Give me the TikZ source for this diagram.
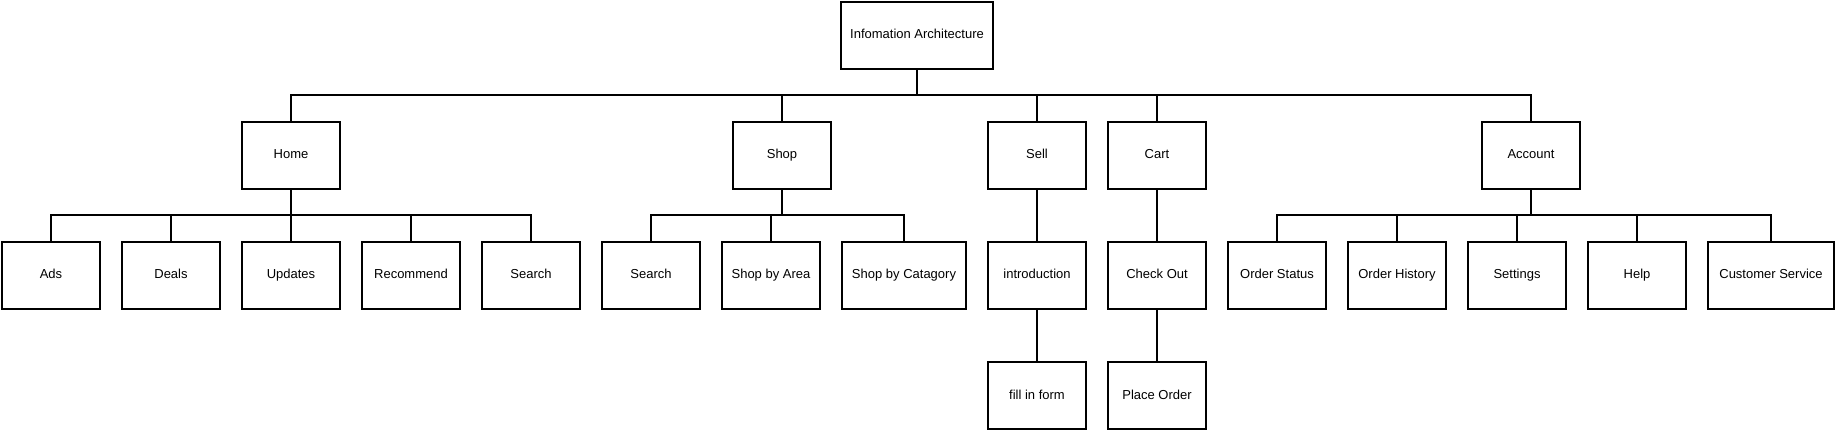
\documentclass[tikz,border=0pt]{standalone}
\usepackage{fontspec}
\setmainfont{Liberation Sans}
\usetikzlibrary{positioning}

\begin{document}
\begin{tikzpicture}[x=1pt, y=1pt, node distance=22pt,
    box/.style={draw, line width=1.8pt, minimum width=98pt, minimum height=67pt, inner sep=0pt, outer sep=0pt,
                text height=9.5pt, text depth=2.5pt, font=\fontsize{13}{15}\selectfont},
    link/.style={line width=1.5pt}]
    \useasboundingbox (0,0) rectangle (1836,-430);

    \node[box, minimum width=152pt]                     (root)         at (917,-35.5) {Infomation Architecture};

    \node[box]                                          (ads)          at (51,-275.5) {Ads};
    \node[box, right=of ads]                            (deals)        {Deals};
    \node[box, right=of deals]                          (updates)      {Updates};
    \node[box, right=of updates]                        (recommend)    {Recommend};
    \node[box, right=of recommend]                      (home search)  {Search};
    \node[box, right=of home search]                    (shop search)  {Search};
    \node[box, right=of shop search]                    (by area)      {Shop by Area};
    \node[box, minimum width=124pt, right=of by area]   (by catagory)  {Shop by Catagory};
    \node[box, right=of by catagory]                    (intro)        {introduction};
    \node[box, right=of intro]                          (check out)    {Check Out};
    \node[box, right=of check out]                      (status)       {Order Status};
    \node[box, right=of status]                         (history)      {Order History};
    \node[box, right=of history]                        (settings)     {Settings};
    \node[box, right=of settings]                       (help)         {Help};
    \node[box, minimum width=126pt, right=of help]      (service)      {Customer Service};

    \node[box, above=53pt of updates]                   (home)         {Home};
    \node[box, above=53pt of by area, xshift=11pt]      (shop)         {Shop};
    \node[box, above=53pt of intro]                     (sell)         {Sell};
    \node[box, above=53pt of check out]                 (cart)         {Cart};
    \node[box, above=53pt of settings, xshift=14pt]     (account)      {Account};

    \node[box, below=53pt of intro]                     (form)         {fill in form};
    \node[box, below=53pt of check out]                 (place order)  {Place Order};

    \coordinate[below=26pt of root.south]    (root bus);
    \coordinate[below=26pt of home.south]    (home bus);
    \coordinate[below=26pt of shop.south]    (shop bus);
    \coordinate[below=26pt of account.south] (account bus);

    % top level
    \draw[link] (root.south) -- (root bus);
    \draw[link] (home.north) |- (root bus);
    \draw[link] (shop.north) |- (root bus);
    \draw[link] (sell.north) |- (root bus);
    \draw[link] (cart.north) |- (root bus);
    \draw[link] (account.north) |- (root bus);

    % home
    \draw[link] (home.south) -- (home bus);
    \draw[link] (ads.north) |- (home bus);
    \draw[link] (deals.north) |- (home bus);
    \draw[link] (updates.north) |- (home bus);
    \draw[link] (recommend.north) |- (home bus);
    \draw[link] (home search.north) |- (home bus);

    % shop
    \draw[link] (shop.south) -- (shop bus);
    \draw[link] (shop search.north) |- (shop bus);
    \draw[link] (by area.north) |- (shop bus);
    \draw[link] (by catagory.north) |- (shop bus);

    % sell, cart
    \draw[link] (sell) -- (intro);
    \draw[link] (intro) -- (form);
    \draw[link] (cart) -- (check out);
    \draw[link] (check out) -- (place order);

    % account
    \draw[link] (account.south) -- (account bus);
    \draw[link] (status.north) |- (account bus);
    \draw[link] (history.north) |- (account bus);
    \draw[link] (settings.north) |- (account bus);
    \draw[link] (help.north) |- (account bus);
    \draw[link] (service.north) |- (account bus);
\end{tikzpicture}
\end{document}
